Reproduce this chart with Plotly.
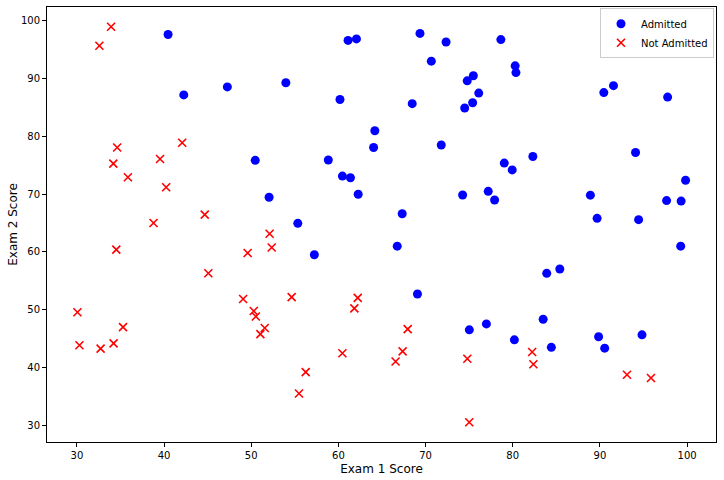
import plotly.graph_objects as go

# exam scores (ex2data1): admitted / not admitted
admitted_exam1 = [60.18, 79.03, 61.11, 75.02, 76.10, 84.43, 82.31, 69.36, 53.97, 69.07,
                  70.66, 76.98, 89.68, 77.92, 62.27, 80.19, 61.38, 85.40, 52.05, 64.18,
                  83.90, 94.44, 77.19, 97.77, 62.07, 91.56, 79.94, 99.27, 90.55, 97.65,
                  74.25, 71.80, 75.40, 40.46, 80.28, 66.75, 64.04, 72.35, 60.46, 58.84,
                  99.83, 47.26, 50.46, 88.91, 94.83, 67.32, 57.24, 80.37, 68.47, 75.48,
                  78.64, 94.09, 90.45, 74.49, 89.85, 83.49, 42.26, 99.32, 55.34, 74.78]
admitted_exam2 = [86.31, 75.34, 96.51, 46.55, 87.42, 43.53, 76.48, 97.72, 89.21, 52.74,
                  92.93, 47.58, 65.80, 68.97, 69.95, 44.82, 72.81, 57.05, 69.43, 80.91,
                  56.31, 65.57, 70.46, 86.73, 96.77, 88.70, 74.16, 61.00, 43.39, 68.86,
                  69.82, 78.45, 85.76, 97.54, 92.12, 60.99, 78.03, 96.23, 73.09, 75.86,
                  72.37, 88.48, 75.81, 69.80, 45.69, 66.59, 59.51, 90.96, 85.59, 90.42,
                  96.65, 77.16, 87.51, 84.85, 45.36, 48.38, 87.10, 68.78, 64.93, 89.53]

rejected_exam1 = [34.62, 30.29, 35.85, 45.08, 95.86, 75.01, 39.54, 67.95, 67.37, 50.53,
                  34.21, 93.11, 61.83, 38.79, 52.11, 40.24, 54.64, 33.92, 74.79, 34.18,
                  51.55, 82.37, 51.05, 62.22, 34.52, 50.29, 49.59, 32.58, 35.29, 56.25,
                  30.06, 44.67, 66.56, 49.07, 32.72, 60.46, 82.23, 42.08, 52.35, 55.48]
rejected_exam2 = [78.02, 43.89, 72.90, 56.32, 38.23, 30.60, 76.04, 46.68, 42.84, 48.86,
                  44.21, 38.80, 50.26, 65.00, 63.13, 71.17, 52.21, 98.87, 41.57, 75.24,
                  46.86, 40.62, 45.82, 52.06, 60.40, 49.80, 59.81, 95.60, 47.02, 39.26,
                  49.59, 66.45, 41.09, 51.88, 43.31, 42.51, 42.72, 78.84, 60.77, 35.57]

fig = go.Figure()
fig.add_trace(go.Scatter(
    x=admitted_exam1, y=admitted_exam2, mode="markers", name="Admitted",
    marker={"color": "blue", "size": 9, "symbol": "circle"},
))
fig.add_trace(go.Scatter(
    x=rejected_exam1, y=rejected_exam2, mode="markers", name="Not Admitted",
    marker={"color": "red", "size": 8, "symbol": "x-thin",
            "line": {"color": "red", "width": 1.6}},
))

axis_style = {
    "showline": True, "linecolor": "black", "linewidth": 1, "mirror": True,
    "ticks": "outside", "ticklen": 4, "tickcolor": "black",
    "showgrid": False, "zeroline": False, "tick0": 30, "dtick": 10,
    "automargin": False,
}
fig.update_layout(
    width=724, height=480,
    paper_bgcolor="white", plot_bgcolor="white",
    font={"family": "DejaVu Sans", "size": 10, "color": "black"},
    margin={"l": 47, "r": 8, "t": 7, "b": 38},
    xaxis={**axis_style, "range": [26.57, 103.32],
           "title": {"text": "Exam 1 Score", "standoff": 4}},
    yaxis={**axis_style, "range": [27.19, 102.28],
           "title": {"text": "Exam 2 Score", "standoff": 0}},
    legend={"x": 0.997, "y": 0.997, "xanchor": "right", "yanchor": "top",
            "bordercolor": "#cccccc", "borderwidth": 1, "bgcolor": "white",
            "font": {"size": 10}, "tracegroupgap": 0},
)
# drop the page's default body margin so the figure sits at the window origin
fig.write_html("out.html", config={"displayModeBar": False},
               post_script="document.body.style.margin = '0';")
